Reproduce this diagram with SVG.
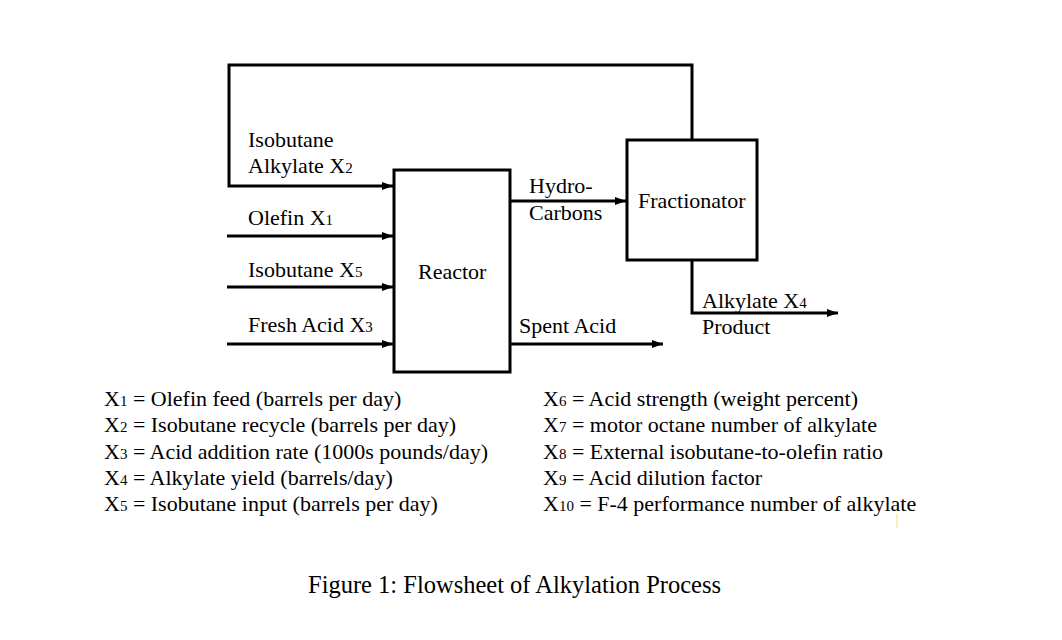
<svg xmlns="http://www.w3.org/2000/svg" width="1062" height="640" viewBox="0 0 1062 640">
<style>
.t{font-family:"Liberation Serif","Times New Roman",serif;font-size:22px;fill:#000}
.s{font-size:15px}
.box{fill:#fff;stroke:#000;stroke-width:3}
.ln{fill:none;stroke:#000;stroke-width:3}
</style>
<defs>
<marker id="ah" markerUnits="userSpaceOnUse" markerWidth="12" markerHeight="10" refX="11" refY="5" orient="auto">
<path d="M0,1 L11,5 L0,9 Z" fill="#000"/>
</marker>
</defs>
<rect width="1062" height="640" fill="#fff"/>
<g id="connectors">
<path class="ln" d="M692,140 V65 H229 V186 H393" marker-end="url(#ah)"/>
<path class="ln" d="M227,236 H393" marker-end="url(#ah)"/>
<path class="ln" d="M227,287 H393" marker-end="url(#ah)"/>
<path class="ln" d="M227,344 H393" marker-end="url(#ah)"/>
<path class="ln" d="M510,201 H626" marker-end="url(#ah)"/>
<path class="ln" d="M510,344 H663" marker-end="url(#ah)"/>
<path class="ln" d="M692,260 V313 H838" marker-end="url(#ah)"/>
</g>
<g id="reactor">
<rect class="box" x="394" y="170" width="116" height="202"/>
<text class="t" x="418" y="279">Reactor</text>
</g>
<g id="fractionator">
<rect class="box" x="627" y="140" width="130" height="120"/>
<text class="t" x="638" y="208">Fractionator</text>
</g>
<g id="labels">
<text class="t" x="248" y="147">Isobutane</text>
<text class="t" x="248" y="173">Alkylate X<tspan class="s">2</tspan></text>
<text class="t" x="248" y="225">Olefin X<tspan class="s">1</tspan></text>
<text class="t" x="248" y="277">Isobutane X<tspan class="s">5</tspan></text>
<text class="t" x="248" y="332">Fresh Acid X<tspan class="s">3</tspan></text>
<text class="t" x="529" y="193">Hydro-</text>
<text class="t" x="529" y="220">Carbons</text>
<text class="t" x="519" y="333">Spent Acid</text>
<text class="t" x="702" y="308">Alkylate X<tspan class="s">4</tspan></text>
<text class="t" x="702" y="334">Product</text>
</g>
<g id="legend">
<text class="t" x="104" y="406">X<tspan class="s">1</tspan> = Olefin feed (barrels per day)</text>
<text class="t" x="104" y="432">X<tspan class="s">2</tspan> = Isobutane recycle (barrels per day)</text>
<text class="t" x="104" y="458.5">X<tspan class="s">3</tspan> = Acid addition rate (1000s pounds/day)</text>
<text class="t" x="104" y="485">X<tspan class="s">4</tspan> = Alkylate yield (barrels/day)</text>
<text class="t" x="104" y="511">X<tspan class="s">5</tspan> = Isobutane input (barrels per day)</text>
<text class="t" x="543" y="406">X<tspan class="s">6</tspan> = Acid strength (weight percent)</text>
<text class="t" x="543" y="432">X<tspan class="s">7</tspan> = motor octane number of alkylate</text>
<text class="t" x="543" y="458.5">X<tspan class="s">8</tspan> = External isobutane-to-olefin ratio</text>
<text class="t" x="543" y="485">X<tspan class="s">9</tspan> = Acid dilution factor</text>
<text class="t" x="543" y="511">X<tspan class="s">10</tspan> = F-4 performance number of alkylate</text>
</g>
<line x1="897" y1="514" x2="897" y2="528" stroke="#f0e070" stroke-width="1"/>
<text class="t" x="308" y="593" style="font-size:24.5px">Figure 1: Flowsheet of Alkylation Process</text>
</svg>
